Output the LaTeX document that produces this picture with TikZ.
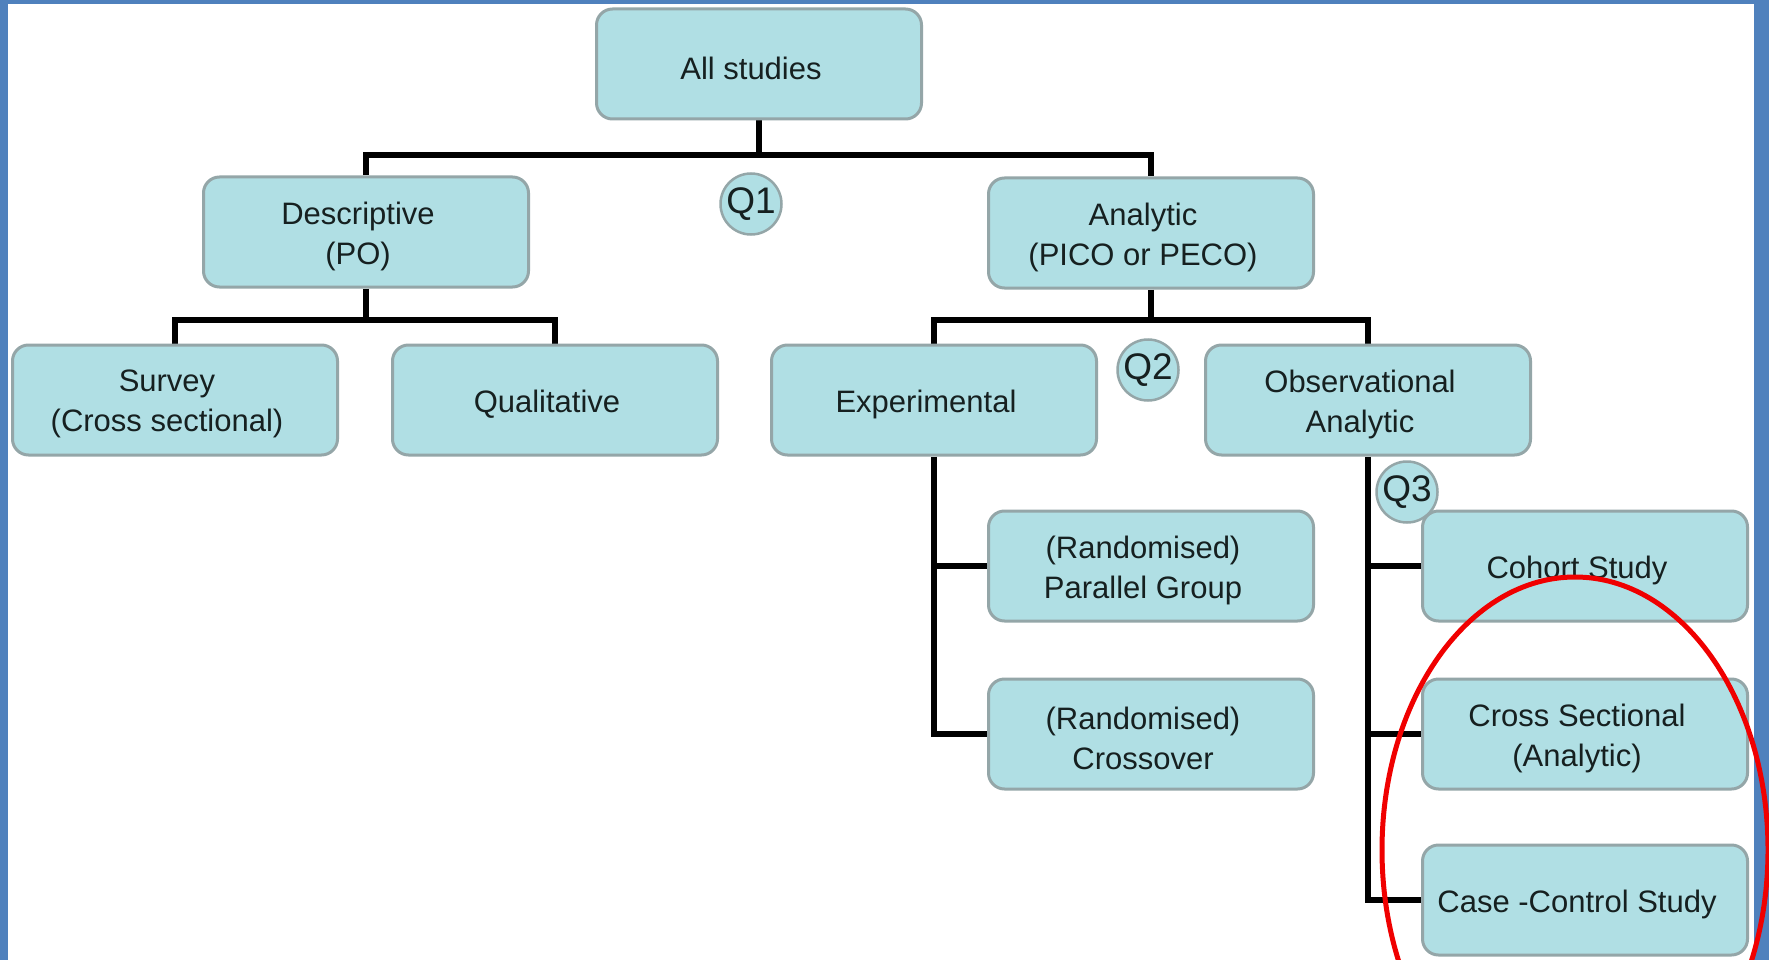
\documentclass[tikz,border=0pt]{standalone}
\usepackage{fontspec}
\setmainfont{Liberation Sans}
\pgfdeclarelayer{bgwhite}
\pgfdeclarelayer{lines}
\pgfsetlayers{bgwhite,lines,main}
\definecolor{boxfill}{RGB}{176,223,228}
\definecolor{boxedge}{RGB}{148,166,168}
\definecolor{frameblue}{RGB}{79,129,189}
\definecolor{txt}{RGB}{22,32,32}
\definecolor{ringred}{RGB}{240,0,0}
\begin{document}
\begin{tikzpicture}[x=1pt,y=-1pt,
  studybox/.style={draw=boxedge, line width=3pt, fill=boxfill, rounded corners=16pt,
    minimum width=325pt, minimum height=110pt, inner sep=0pt},
  boxtext/.style={align=center, text=txt, inner sep=0pt, xshift=-8pt, yshift=-4pt,
    font=\fontsize{31pt}{40pt}\selectfont},
  qmark/.style={circle, draw=boxedge, line width=2.5pt, fill=boxfill, minimum size=61pt,
    inner sep=0pt, text=txt, font=\fontsize{37pt}{37pt}\selectfont},
  conn/.style={line width=5.5pt, black, line join=miter}]
\useasboundingbox (0,0) rectangle (1769,960);
\begin{pgfonlayer}{bgwhite}
  \fill[white] (0,0) rectangle (1769,960);
\end{pgfonlayer}

% boxes
\node[studybox, label={[boxtext]center:{All studies}}] (all) at (759,64) {};
\node[studybox, label={[boxtext]center:{Descriptive\\(PO)}}] (desc) at (366,232) {};
\node[studybox, label={[boxtext]center:{Analytic\\(PICO or PECO)}}] (anal) at (1151,233) {};
\node[studybox, label={[boxtext]center:{Survey\\(Cross sectional)}}] (survey) at (175,400) {};
\node[studybox, label={[boxtext]center:{Qualitative}}] (qual) at (555,400) {};
\node[studybox, label={[boxtext]center:{Experimental}}] (exper) at (934,400) {};
\node[studybox, label={[boxtext]center:{Observational\\Analytic}}] (obs) at (1368,400) {};
\node[studybox, label={[boxtext]center:{(Randomised)\\Parallel Group}}] (par) at (1151,566) {};
\node[studybox, label={[boxtext]center:{(Randomised)\\Crossover}}] (cross) at (1151,734) {};
\node[studybox, label={[boxtext]center:{Cohort Study}}] (cohort) at (1585,566) {};
\node[studybox, label={[boxtext]center:{Cross Sectional\\(Analytic)}}] (csa) at (1585,734) {};
\node[studybox, label={[boxtext]center:{Case -Control Study}}] (cc) at (1585,900) {};

% question marks
\node[qmark] (q1) at (751,204) {Q1};
\node[qmark] (q2) at (1148,370) {Q2};
\node[qmark] (q3) at (1407,492) {Q3};

% junction points
\coordinate (j1) at (759,155);
\coordinate (j2) at (366,320);
\coordinate (j3) at (1151,320);

\begin{pgfonlayer}{lines}
  \draw[conn] (all.south) -- (j1);
  \draw[conn] (desc.north) |- (j1) -| (anal.north);
  \draw[conn] (desc.south) -- (j2);
  \draw[conn] (survey.north) |- (j2) -| (qual.north);
  \draw[conn] (anal.south) -- (j3);
  \draw[conn] (exper.north) |- (j3) -| (obs.north);
  \draw[conn] (exper.south) |- (cross.west);
  \draw[conn] (exper.south |- par.west) -- (par.west);
  \draw[conn] (obs.south) |- (cc.west);
  \draw[conn] (obs.south |- cohort.west) -- (cohort.west);
  \draw[conn] (obs.south |- csa.west) -- (csa.west);
\end{pgfonlayer}

% frame
\fill[frameblue] (0,0) rectangle (8,960);
\fill[frameblue] (0,0) rectangle (1769,4);
\fill[frameblue] (1754,0) rectangle (1769,960);

% red ring
\begin{scope}
  \clip (0,0) rectangle (1769,960);
  \draw[ringred, line width=5pt] (1575,850) ellipse [x radius=193, y radius=273];
\end{scope}
\end{tikzpicture}
\end{document}
